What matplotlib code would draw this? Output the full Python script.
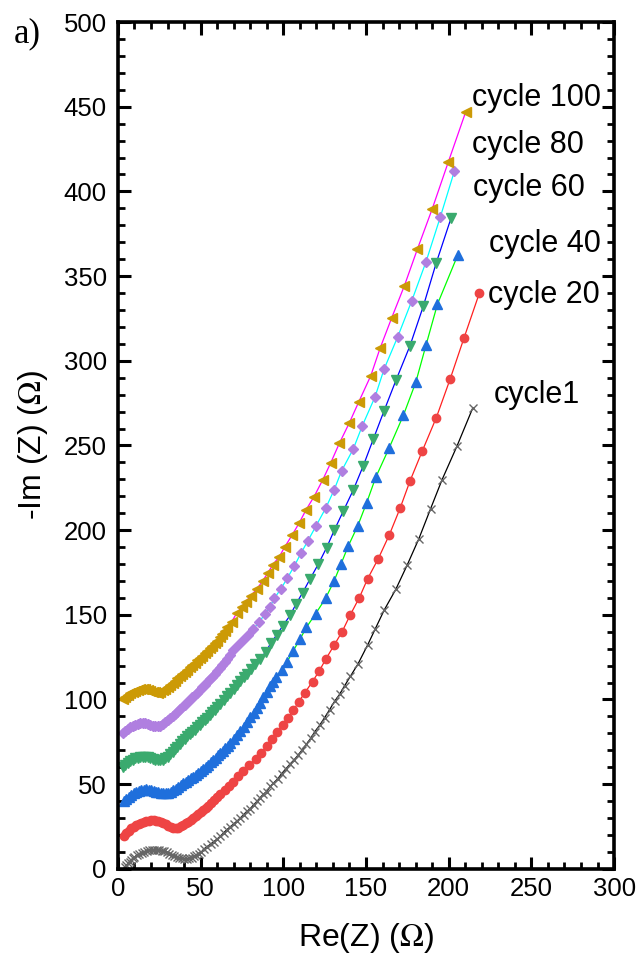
import matplotlib
matplotlib.use("Agg")
import matplotlib.pyplot as plt
from matplotlib.ticker import MultipleLocator

plt.rcParams['font.family'] = ['Liberation Sans', 'DejaVu Sans']
plt.rcParams['mathtext.fontset'] = 'stix'

# (Re Z, -Im Z), offset curves as plotted
cycle1 = [(4, 0.8), (5, 2.0), (6, 3.2), (7, 4.3), (8, 5.3), (9, 6.2), (10, 7.0),
          (11.5, 8.0), (13, 8.8), (14.5, 9.5), (16, 10.1), (17.5, 10.6), (19, 11.0),
          (20.5, 11.2), (22, 11.3), (23.5, 11.3), (25, 11.1), (26.5, 10.8), (28, 10.3),
          (29.5, 9.7), (31, 9.0), (32.5, 8.3), (34, 7.6), (35.5, 7.0), (37, 6.5),
          (38.5, 6.1), (40, 5.9), (41.5, 5.9), (43, 6.1), (44.5, 6.6), (46, 7.3),
          (47.5, 8.1), (49, 9.0), (50.5, 10.0), (52, 11.8), (54, 13.1), (56, 14.6),
          (58, 16.1), (60, 17.6), (62, 19.4), (64, 21.3), (66, 23.2), (68, 24.9),
          (70, 26.5), (72, 28.2), (74, 30.0), (76, 32.0), (78, 34.0), (80, 35.5),
          (82, 37.7), (84, 39.8), (86, 42.0), (88, 44.2), (90, 45.5), (92, 48.6),
          (94, 50.6), (96.5, 53.0), (99, 56.2), (101.5, 59.0), (104, 61.8), (106.5, 64.3),
          (109, 67.2), (111.5, 70.4), (114, 73.6), (116.5, 77.0), (119, 80.9), (122, 84.8),
          (125, 89.3), (128, 94.0), (131, 98.9), (134, 103.0), (137, 108.0), (140.5, 113.6),
          (145, 120.7), (151, 132.2), (155.7, 141.9), (161, 152.8), (168, 165.0),
          (175, 179.6), (182, 195.0), (189, 212.5), (196, 229.8), (205, 249.6), (214.5, 272.0)]

cycle20 = [(3.5, 19.5), (5, 21.2), (6.5, 22.6), (8, 23.8), (9.5, 24.9), (11, 25.8),
           (12.5, 26.6), (14, 27.3), (15.5, 27.8), (17, 28.2), (18.5, 28.5), (20, 28.6),
           (21.5, 28.6), (23, 28.4), (24.5, 28.0), (26, 27.5), (27.5, 26.9), (29, 26.2),
           (30.5, 25.5), (32, 24.8), (33.5, 24.3), (35, 24.1), (36.5, 24.3), (38, 25.0),
           (39.5, 25.9), (41, 26.9), (42.5, 27.9), (44, 28.9), (45.5, 29.9), (47, 31.0),
           (48.5, 32.1), (50, 33.3), (51.5, 34.5), (53, 35.8), (54.5, 37.2), (56, 38.6),
           (58, 40.4), (60, 42.2), (62, 44.1), (64.5, 46.3), (67, 48.8), (69.5, 51.5),
           (72.5, 54.6), (75.8, 57.8), (79.5, 61.3), (83.2, 64.9), (86.5, 68.4), (89.9, 72.5),
           (93, 76.8), (96, 80.8), (99.6, 85.0), (103, 89.3), (106.1, 93.6), (109.3, 98.6),
           (113.1, 104.1), (117.7, 110.6), (121.8, 117.0), (125.8, 124.0), (130.7, 132.0),
           (135.6, 140.1), (140.3, 149.6), (146, 160.2), (151, 171.3), (157.4, 183.1),
           (164.1, 197.2), (170.6, 212.9), (176.6, 229.0), (184.1, 246.9), (192.5, 266.4),
           (200.8, 289.0), (209.3, 313.6), (218.6, 340.1)]

cycle40 = [(3.5, 39.8), (5, 41.3), (6.5, 42.6), (8, 43.7), (9.5, 44.6), (11, 45.4),
           (12.5, 46.0), (14, 46.5), (15.5, 46.8), (17, 46.9), (18.5, 46.8), (20, 46.5),
           (21.5, 46.1), (23, 45.6), (24.5, 45.1), (26, 44.7), (27.5, 44.5), (29, 44.6),
           (30.5, 45.0), (32, 45.6), (33.5, 46.4), (35, 47.3), (36.5, 48.3), (38, 49.4),
           (39.5, 50.5), (41, 51.5), (42.5, 52.5), (44, 53.5), (45.5, 54.5), (47, 55.5),
           (48.5, 56.5), (50, 57.6), (51.5, 58.8), (53, 60.1), (54.5, 61.4), (56, 62.8),
           (57.5, 64.2), (59, 65.6), (60.5, 67.0), (62, 68.4), (63.5, 69.8), (65, 71.3),
           (66.5, 72.8), (68, 74.4), (70, 76.5), (72, 78.9), (74, 81.4), (76, 84.0),
           (78, 86.7), (80, 89.4), (82, 92.2), (84, 95.2), (86, 98.2), (88, 101.4),
           (90, 104.6), (92, 107.8), (93.8, 110.6), (95.6, 113.2), (99, 117.5),
           (102.4, 122.4), (106.1, 128.9), (110.1, 135.6), (113.9, 142.5), (119.6, 150.7),
           (125.6, 159.8), (130.7, 170.0), (134.9, 180.0), (139.3, 190.7), (145, 202.5),
           (150.4, 216.2), (155.9, 231.2), (163.9, 248.3), (172.6, 267.8), (180.1, 287.3),
           (186.3, 309.3), (193.2, 333.4), (205.5, 362.5)]

cycle60 = [(3.2, 60.0), (4.5, 61.4), (6, 62.6), (7.5, 63.6), (9, 64.5), (10.5, 65.2),
           (12, 65.7), (13.5, 66.0), (15, 66.2), (16.5, 66.1), (18, 65.9), (19.5, 65.5),
           (21, 65.0), (22.5, 64.5), (24, 64.1), (25.5, 64.0), (27, 64.4), (28.5, 65.2),
           (30, 66.3), (31.5, 67.6), (33, 69.0), (34.5, 70.5), (36, 72.0), (37.5, 73.6),
           (39, 75.2), (40.5, 76.8), (42, 78.3), (43.5, 79.6), (45, 80.9), (46.5, 82.2),
           (48, 83.6), (49.5, 85.0), (51, 86.4), (52.5, 87.8), (54, 89.3), (55.5, 90.8),
           (57, 92.3), (58.5, 93.8), (60, 95.4), (62, 97.5), (64, 99.7), (66, 101.9),
           (68, 104.1), (70, 106.4), (72, 108.8), (74, 111.0), (76, 113.2), (78, 115.3),
           (80.5, 117.9), (83, 120.7), (85.9, 123.8), (89.5, 128.3), (92.4, 133.2),
           (96, 138.1), (99.6, 143.4), (104.1, 149.6), (107.7, 156.4), (111.7, 163.1),
           (116.2, 171.2), (121.2, 180.0), (126.2, 189.7), (130.9, 200.1), (136.3, 211.3),
           (142.3, 223.7), (148.4, 238.1), (154.4, 253.7), (160.9, 270.4), (168.2, 288.7),
           (176.6, 308.9), (184.7, 332.4), (192.4, 357.6), (201.5, 384.5)]

cycle80 = [(3.2, 80.2), (4.5, 81.6), (6, 82.8), (7.5, 83.8), (9, 84.6), (10.5, 85.2),
           (12, 85.6), (13.5, 85.9), (15, 86.0), (16.5, 85.9), (18, 85.6), (19.5, 85.1),
           (21, 84.6), (22.5, 84.2), (24, 84.1), (25.5, 84.5), (27, 85.4), (28.5, 86.5),
           (30, 87.7), (31.5, 88.9), (33, 90.2), (34.5, 91.5), (36, 92.8), (37.5, 94.2),
           (39, 95.6), (40.5, 97.0), (42, 98.4), (43.5, 99.8), (45, 101.2), (46.5, 102.6),
           (48, 104.1), (49.5, 105.6), (51, 107.1), (52.5, 108.6), (54, 110.2), (55.5, 111.8),
           (57, 113.4), (58.5, 115.0), (60, 116.6), (61.5, 118.3), (63, 120.1), (64.5, 122.0),
           (66, 124.0), (67.5, 126.2), (69.8, 129.3), (72.8, 132.3), (75.8, 135.2),
           (78.8, 138.3), (81.9, 141.5), (85.5, 146.0), (88.9, 150.3), (92, 154.8),
           (94.6, 159.8), (98.4, 165.1), (102.4, 171.6), (106.7, 178.9), (110.7, 186.4),
           (114.8, 193.6), (119.8, 202.5), (125.8, 213.3), (130.7, 223.7), (135.3, 235.1),
           (142.3, 247.9), (147.8, 261.7), (155.5, 278.8), (160.9, 295.0), (169.2, 314.2),
           (177.7, 335.5), (186.3, 358.5), (195, 385.1), (203.5, 412.2)]

cycle100 = [(3.2, 100.2), (4.5, 101.6), (6, 102.8), (7.5, 103.8), (9, 104.6), (10.5, 105.2),
            (12, 105.6), (13.5, 105.9), (15, 106.0), (16.5, 105.9), (18, 105.6), (19.5, 105.1),
            (21, 104.6), (22.5, 104.2), (24, 104.1), (25.5, 104.5), (27, 105.3), (28.5, 106.3),
            (30, 107.4), (31.5, 108.6), (33, 109.8), (34.5, 111.1), (36, 112.4), (37.5, 113.7),
            (39, 115.0), (40.5, 116.3), (42, 117.6), (43.5, 118.9), (45, 120.3), (46.5, 121.7),
            (48, 123.1), (49.5, 124.5), (51, 125.9), (52.5, 127.3), (54, 128.7), (55.5, 130.2),
            (57, 131.7), (58.5, 133.2), (60, 134.8), (61.5, 136.6), (63, 138.5), (64.5, 140.5),
            (66, 142.6), (68.8, 146.0), (71.8, 150.9), (74.8, 154.5), (77.4, 157.8),
            (80.3, 161.2), (83.9, 165.1), (87.5, 170.0), (90.5, 174.5), (93.6, 179.5),
            (97.6, 184.4), (101, 190.3), (105.4, 197.2), (109.7, 204.4), (113.7, 211.9),
            (118.6, 219.8), (123.8, 229.6), (128.7, 239.8), (133.9, 251.3), (139.8, 263.1),
            (145.7, 275.9), (152.9, 291.2), (158.5, 307.4), (165.6, 325.5), (173.2, 344.3),
            (181.1, 366.0), (190, 389.6), (199.8, 417.5), (210.3, 447.0)]

labels = ['cycle1', 'cycle 20', 'cycle 40', 'cycle 60', 'cycle 80', 'cycle 100']
label_pos = [(227, 280), (224, 339), (224.5, 369), (214.5, 402), (214, 427.5), (214, 455)]

fig = plt.figure(figsize=(6.41, 9.60), dpi=100)
ax = fig.add_axes([0.184, 0.095, 0.774, 0.882])

styles = [
    dict(marker='x', color='black', mfc='#666666', mec='#666666', ms=6, mew=1.0),
    dict(marker='o', color='#ff2020', mfc='#ee4444', mec='#ee4444', ms=6),
    dict(marker='^', color='#00ff00', mfc='#1f6fdc', mec='#1f6fdc', ms=7),
    dict(marker='v', color='#0000ff', mfc='#3aaa6e', mec='#3aaa6e', ms=7),
    dict(marker='D', color='#00ffff', mfc='#b07fe0', mec='#b07fe0', ms=5.5),
    dict(marker='<', color='#ff00ff', mfc='#cc9a06', mec='#cc9a06', ms=7),
]

for data, st in zip([cycle1, cycle20, cycle40, cycle60, cycle80, cycle100], styles):
    xs = [p[0] for p in data]
    ys = [p[1] for p in data]
    ax.plot(xs, ys, lw=0.9, **st)

for txt, (tx, ty) in zip(labels, label_pos):
    ax.text(tx, ty, txt, fontsize=22, va='center', ha='left')

ax.set_xlim(0, 300)
ax.set_ylim(0, 500)
ax.xaxis.set_major_locator(MultipleLocator(50))
ax.xaxis.set_minor_locator(MultipleLocator(10))
ax.yaxis.set_major_locator(MultipleLocator(50))
ax.yaxis.set_minor_locator(MultipleLocator(10))
ax.tick_params(which='both', direction='in', top=True, right=True, labelsize=18.5)
ax.tick_params(axis='y', pad=8)
ax.tick_params(axis='x', pad=6)
ax.tick_params(which='major', length=9, width=2.2)
ax.tick_params(which='minor', length=5, width=2)
for sp in ax.spines.values():
    sp.set_linewidth(2.6)

ax.set_xlabel(r'Re(Z) ($\Omega$)', fontsize=23, labelpad=14)
ax.set_ylabel(r'-Im (Z) ($\Omega$)', fontsize=23, labelpad=10)

fig.text(0.022, 0.965, 'a)', fontsize=25, family='Liberation Serif', va='center')

fig.savefig('out.png', dpi=100)
